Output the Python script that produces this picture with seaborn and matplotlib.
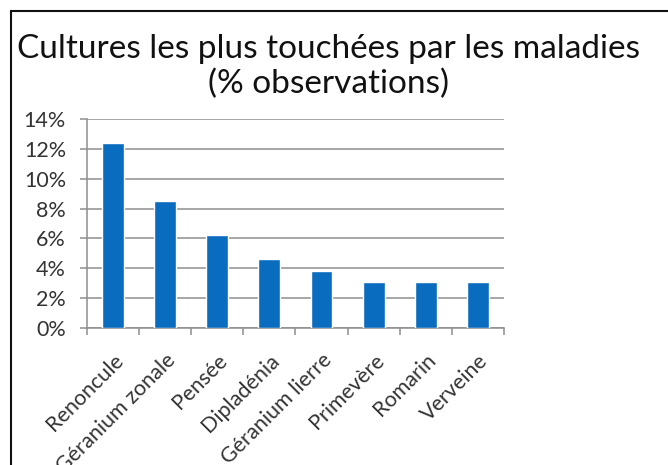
import matplotlib
matplotlib.use("Agg")
import matplotlib.pyplot as plt
import matplotlib.patches as mpatches
from matplotlib.ticker import FixedLocator, PercentFormatter
import seaborn as sns
import pandas as pd

cultures = ["Renoncule", "Géranium zonale", "Pensée", "Dipladénia",
            "Géranium lierre", "Primevère", "Romarin", "Verveine"]
pct_observations = [12.4, 8.5, 6.2, 4.6, 3.8, 3.1, 3.1, 3.1]
y_ticks = [0, 2, 4, 6, 8, 10, 12, 14]

df = pd.DataFrame({"culture": cultures, "pct": pct_observations})

sns.set_theme(style="white")
plt.rcParams["font.family"] = ["Lato", "DejaVu Sans"]

fig = plt.figure(figsize=(6.68, 4.65), dpi=100)
ax = fig.add_axes([0.130, 0.2946, 0.6245, 0.4494])

sns.barplot(data=df, x="culture", y="pct", color="#0A6CBE", width=0.42,
            saturation=1, ax=ax, zorder=3)

ax.set_ylim(0, 14)
ax.set_xlim(-0.5, len(cultures) - 0.5)
ax.set_yticks(y_ticks)
ax.yaxis.set_major_formatter(PercentFormatter(decimals=0))
ax.grid(axis="y", color="#8e8e8e", linewidth=1.1, zorder=0)
ax.set_axisbelow(True)

for side in ["top", "right"]:
    ax.spines[side].set_visible(False)
for side in ["left", "bottom"]:
    ax.spines[side].set_color("#8e8e8e")
    ax.spines[side].set_linewidth(1.1)

ax.set_xlabel("")
ax.set_ylabel("")
ax.tick_params(axis="y", length=5, width=1.1, color="#8e8e8e", pad=10,
               labelsize=15.5, labelcolor="#333333", left=True)
ax.tick_params(axis="x", which="major", length=0, pad=16,
               labelsize=15.5, labelcolor="#333333")
ax.xaxis.set_minor_locator(FixedLocator([i - 0.5 for i in range(len(cultures) + 1)]))
ax.tick_params(axis="x", which="minor", length=5, width=1.1, color="#8e8e8e",
               bottom=True)
plt.setp(ax.get_xticklabels(), rotation=45, ha="right", rotation_mode="anchor")

fig.text(0.4925, 1 - 34 / 465, "Cultures les plus touchées par les maladies\n(% observations)",
         ha="center", va="top", fontsize=24, color="#111111", linespacing=1.2)

# frame around the chart area
frame = mpatches.Rectangle((10.5 / 668, -0.1), 1.2, 1 - 11.5 / 465 + 0.1,
                           transform=fig.transFigure, fill=False,
                           edgecolor="#111111", linewidth=1.5)
fig.patches.append(frame)

fig.savefig("out.png", dpi=100)
